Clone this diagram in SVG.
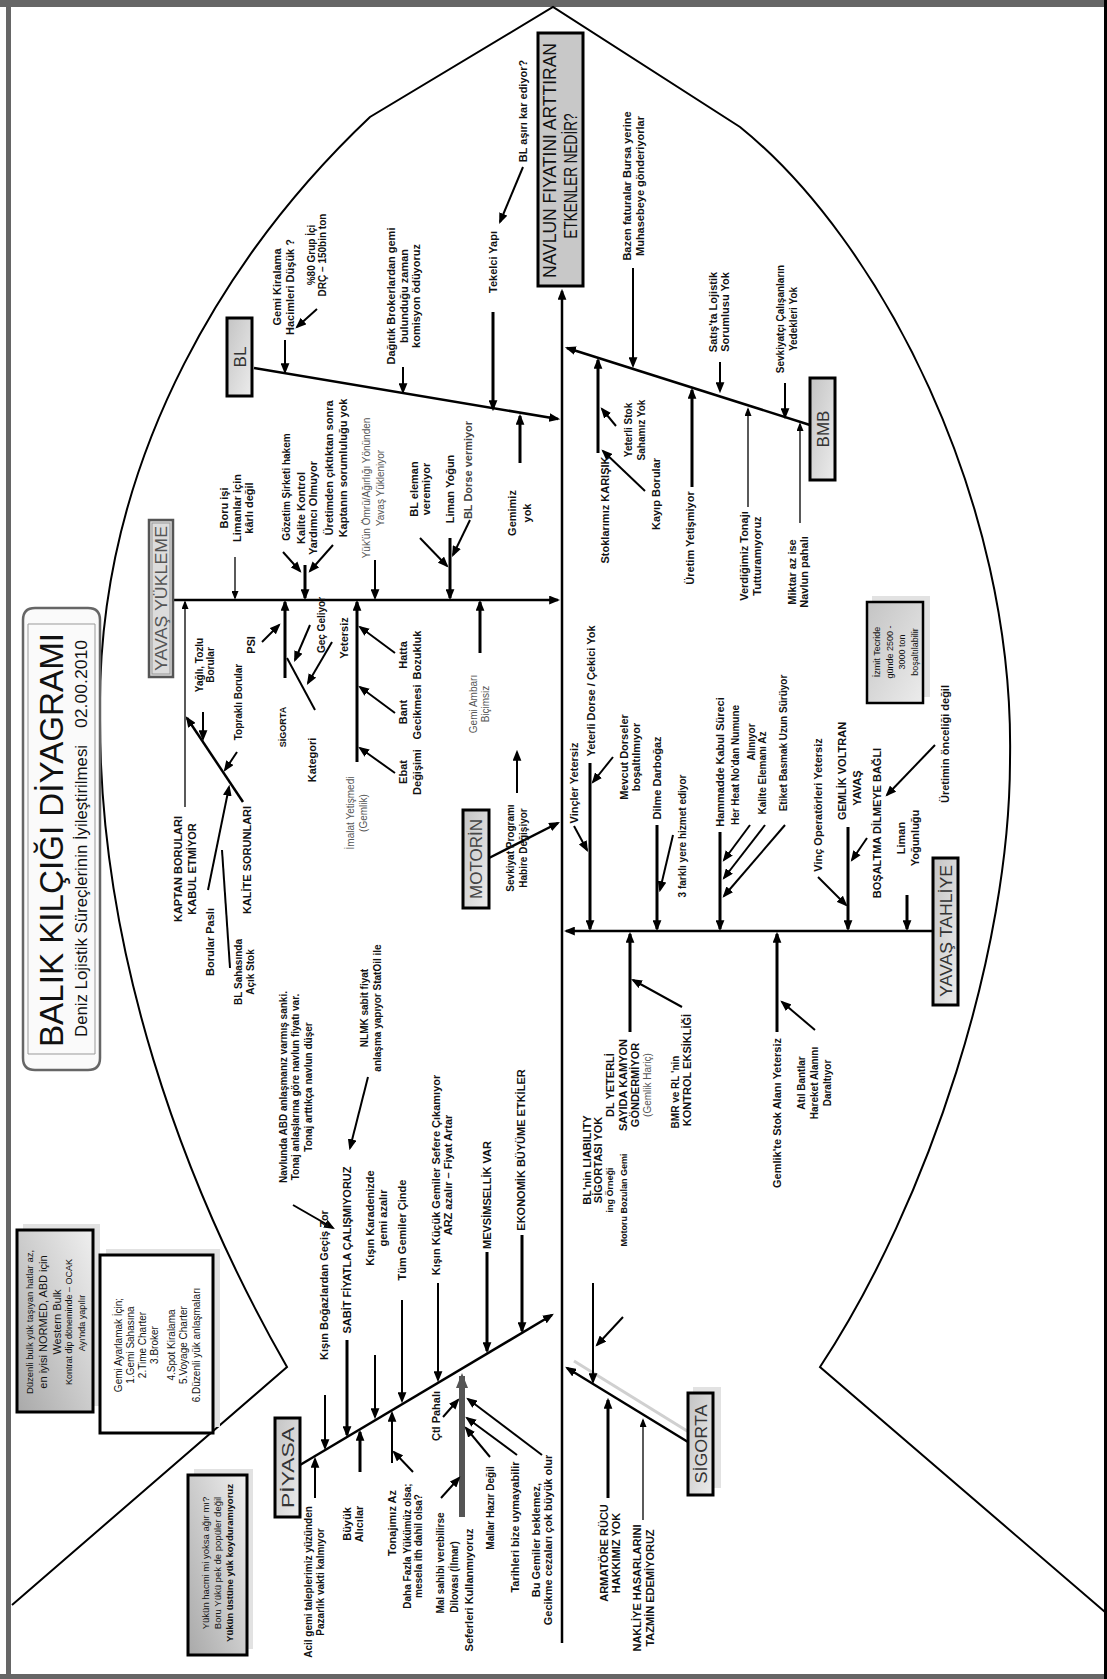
<svg xmlns="http://www.w3.org/2000/svg" width="1107" height="1679" viewBox="0 0 1107 1679">
<defs>
<style>
text{font-family:"Liberation Sans",Arial,sans-serif;text-anchor:middle;fill:#111}
.b{font-size:11px;font-weight:bold}
.s{font-size:10px;font-weight:bold}
.x{font-size:9px;font-weight:bold}
.n{font-size:10px;fill:#555}
.m{font-size:17px;fill:#333}
.bone{stroke:#000;stroke-width:2.5;fill:none;marker-end:url(#ah)}
.a{stroke:#000;stroke-width:2;fill:none;marker-end:url(#ah)}
.k{stroke:#000;stroke-width:3;fill:none;marker-end:url(#ah)}
.t{stroke:#000;stroke-width:1.3;fill:none;marker-end:url(#as)}
.p{stroke:#000;stroke-width:2;fill:none}
.box{fill:url(#gb);stroke:#000;stroke-width:3}
.sh{fill:#e2e2e2}
</style>
<marker id="ah" viewBox="0 0 10 8" refX="8" refY="4" markerWidth="11" markerHeight="9" orient="auto" markerUnits="userSpaceOnUse"><path d="M0,0 L10,4 L0,8 z" fill="#000"/></marker>
<marker id="as" viewBox="0 0 10 8" refX="8" refY="4" markerWidth="9" markerHeight="7" orient="auto" markerUnits="userSpaceOnUse"><path d="M0,0 L10,4 L0,8 z" fill="#000"/></marker>
<marker id="ag" viewBox="0 0 10 8" refX="8" refY="4" markerWidth="15" markerHeight="13" orient="auto" markerUnits="userSpaceOnUse"><path d="M0,0 L10,4 L0,8 z" fill="#555"/></marker>
<linearGradient id="gb" x1="0" y1="0" x2="1" y2="1"><stop offset="0" stop-color="#c4c4c4"/><stop offset="1" stop-color="#ececec"/></linearGradient>
<linearGradient id="gl" x1="0" y1="1" x2="1" y2="0"><stop offset="0" stop-color="#a9a9a9"/><stop offset="1" stop-color="#efefef"/></linearGradient>
</defs>

<rect x="0" y="0" width="1107" height="1679" fill="#fff"/>
<rect x="0" y="0" width="1104" height="7" fill="#666"/>
<rect x="6" y="0" width="5" height="1679" fill="#666"/>
<rect x="0" y="1674" width="1107" height="5" fill="#666"/>
<rect x="1104" y="0" width="3" height="1679" fill="#000"/>

<g id="fish">
<path d="M12,1605 L287,1367 C180,1180 100,950 100,720 C95,450 240,240 370,117 L553,7 L740,127 C880,240 1015,500 1010,760 C1010,950 930,1200 820,1367 L1105,1612" fill="none" stroke="#000" stroke-width="2"/>
</g>

<g id="connectors">
<path class="bone" d="M562,1643 L562,291" stroke-width="1.5"/>
<path class="bone" d="M254,368 L558,419"/>
<path class="bone" d="M810,425 L567,348"/>
<path class="bone" d="M173,600 L558,600"/>
<path class="bone" d="M489,858 L558,823"/>
<path class="bone" d="M933,931 L566,931"/>
<path class="bone" d="M300,1465 L552,1315"/>
<path d="M692,1434 L574,1361" stroke="#d0d0d0" stroke-width="3" fill="none"/>
<path class="bone" d="M688,1442 L567,1368"/>
<!-- BL -->
<path class="a" d="M285,340 L285,372"/>
<path class="a" d="M317,309 L297,327"/>
<path class="a" d="M403,367 L403,392"/>
<path class="k" d="M493,312 L493,409"/>
<path class="a" d="M523,167 L500,222"/>
<path class="k" d="M520,463 L520,416"/>
<!-- BMB -->
<path class="a" d="M633,268 L633,366"/>
<path class="a" d="M720,362 L720,391"/>
<path class="a" d="M785,383 L785,417"/>
<path class="k" d="M598,453 L598,360"/>
<path class="a" d="M616,426 L602,409"/>
<path class="a" d="M645,491 L603,451"/>
<path class="k" d="M692,487 L692,390"/>
<path class="t" d="M748,507 L748,409"/>
<path class="t" d="M800,523 L800,424"/>
<!-- YAVAS YUKLEME -->
<path class="t" d="M235,557 L235,598"/>
<path class="a" d="M283,552 L300,571"/>
<path class="a" d="M333,545 L310,571"/>
<path class="k" d="M305,565 L305,598"/>
<path class="a" d="M375,560 L375,598"/>
<path class="a" d="M420,538 L447,566"/>
<path class="a" d="M470,520 L453,555" stroke="#555"/>
<path class="k" d="M450,538 L450,598"/>
<path class="t" d="M185,807 L185,602"/>
<path class="bone" d="M243,802 L187,718"/>
<path class="a" d="M203,712 L203,739"/>
<path class="a" d="M237,752 L225,770"/>
<path class="a" d="M208,890 L229,787"/>
<path class="p" d="M230,968 L222,850"/>
<path class="k" d="M285,678 L285,602"/>
<path class="a" d="M262,642 L279,625"/>
<path class="p" d="M287,658 L315,710"/>
<path class="a" d="M310,625 L295,660"/>
<path class="a" d="M332,642 L308,683"/>
<path class="k" d="M357,762 L357,602"/>
<path class="a" d="M395,653 L360,627"/>
<path class="a" d="M395,713 L360,687"/>
<path class="a" d="M395,773 L360,748"/>
<path class="k" d="M480,653 L480,602"/>
<path class="a" d="M517,793 L517,752"/>
<!-- YAVAS TAHLIYE -->
<path class="k" d="M590,763 L590,929"/>
<path class="a" d="M574,826 L587,850"/>
<path class="a" d="M613,757 L593,782"/>
<path class="k" d="M657,825 L657,929"/>
<path class="a" d="M673,835 L660,890"/>
<path class="k" d="M720,832 L720,929"/>
<path class="a" d="M750,825 L724,860"/>
<path class="a" d="M765,825 L724,878"/>
<path class="a" d="M785,825 L724,896"/>
<path class="a" d="M818,877 L846,905"/>
<path class="k" d="M848,827 L848,929"/>
<path class="a" d="M867,838 L852,860"/>
<path class="a" d="M935,745 L887,795"/>
<path class="k" d="M907,895 L907,929"/>
<path class="k" d="M630,1032 L630,934"/>
<path class="a" d="M682,1007 L633,980"/>
<path class="k" d="M777,1032 L777,934"/>
<path class="a" d="M815,1030 L782,1002"/>
<!-- PIYASA -->
<path class="a" d="M325,1395 L325,1448"/>
<path class="k" d="M347,1340 L347,1435"/>
<path class="a" d="M293,1205 L333,1228"/>
<path class="a" d="M368,1077 L350,1148"/>
<path class="a" d="M375,1355 L375,1417"/>
<path class="a" d="M402,1300 L402,1401"/>
<path class="a" d="M438,1283 L438,1380"/>
<path class="k" d="M487,1252 L487,1351"/>
<path class="k" d="M522,1235 L522,1331"/>
<path class="a" d="M315,1498 L315,1459"/>
<path class="k" d="M360,1472 L360,1432"/>
<path class="a" d="M392,1463 L392,1413"/>
<path class="a" d="M413,1472 L394,1452"/>
<path class="a" d="M443,1417 L458,1400"/>
<path d="M462,1517 L462,1376" stroke="#555" stroke-width="6" fill="none" marker-end="url(#ag)"/>
<path class="a" d="M441,1498 L459,1478"/>
<path class="a" d="M490,1457 L466,1428"/>
<path class="a" d="M517,1455 L467,1418"/>
<path class="a" d="M542,1455 L468,1399"/>
<!-- SIGORTA -->
<path class="a" d="M593,1283 L593,1382"/>
<path class="a" d="M623,1317 L597,1345"/>
<path class="k" d="M608,1498 L608,1400"/>
<path class="t" d="M643,1520 L643,1420"/>
</g>

<g id="title">
<path d="M23,620 L23,1058 Q23,1070 35,1070 L88,1070 Q100,1070 100,1058 L100,620 Q100,608 88,608 L35,608 Q23,608 23,620 Z" fill="#fafafa" stroke="#666" stroke-width="2.5"/>
<path d="M28,624 L28,1054 L95,1054 L95,624 Z" fill="none" stroke="#999" stroke-width="1"/>
<text transform="translate(63,840) rotate(-90)" font-size="34" textLength="414" lengthAdjust="spacingAndGlyphs">BALIK KILÇIĞI DİYAGRAMI</text>
<text transform="translate(87,891) rotate(-90)" font-size="16" textLength="292" lengthAdjust="spacingAndGlyphs">Deniz Lojistik Süreçlerinin İyileştirilmesi</text>
<text transform="translate(87,684) rotate(-90)" font-size="16" textLength="88" lengthAdjust="spacingAndGlyphs">02.00.2010</text>
</g>

<g id="head">
<rect x="538" y="33" width="45" height="253" fill="#c8c8c8" stroke="#000" stroke-width="3"/>
<text transform="translate(556,160.5) rotate(-90)" font-size="19" textLength="235" lengthAdjust="spacingAndGlyphs">NAVLUN FIYATINI ARTTIRAN</text>
<text transform="translate(577,176) rotate(-90)" font-size="19" textLength="125" lengthAdjust="spacingAndGlyphs">ETKENLER NEDİR?</text>
</g>

<g id="bl">
<rect class="box" x="227" y="318" width="25" height="78"/>
<text class="m" transform="translate(246,357) rotate(-90)">BL</text>
</g>
<g id="bl-1"><text class="b" transform="translate(281,287) rotate(-90)"><tspan x="0">Gemi Kiralama</tspan><tspan x="0" dy="13">Hacimleri Düşük ?</tspan></text></g>
<g id="bl-2"><text class="s" transform="translate(314.5,255) rotate(-90)"><tspan x="0">%80 Grup İçi</tspan><tspan x="0" dy="11">DRÇ – 150bin ton</tspan></text></g>
<g id="bl-3"><text class="b" transform="translate(395,296) rotate(-90)"><tspan x="0">Dağıtık Brokerlardan gemi</tspan><tspan x="0" dy="12.5">bulunduğu zaman</tspan><tspan x="0" dy="12.5">komisyon ödüyoruz</tspan></text></g>
<g id="bl-4"><text class="b" transform="translate(497,262) rotate(-90)">Tekelci Yapı</text></g>
<g id="bl-5"><text class="b" transform="translate(527,111) rotate(-90)">BL aşırı kar ediyor?</text></g>
<g id="bl-6"><text class="b" transform="translate(516,513) rotate(-90)"><tspan x="0">Gemimiz</tspan><tspan x="0" dy="15">yok</tspan></text></g>

<g id="bmb">
<rect class="box" x="810" y="378" width="25" height="102"/>
<text class="m" transform="translate(828.5,429) rotate(-90)">BMB</text>
</g>
<g id="bmb-1"><text class="b" transform="translate(631,186) rotate(-90)"><tspan x="0">Bazen faturalar Bursa yerine</tspan><tspan x="0" dy="13">Muhasebeye gönderiyorlar</tspan></text></g>
<g id="bmb-2"><text class="b" transform="translate(717,312) rotate(-90)"><tspan x="0">Satış'ta Lojistik</tspan><tspan x="0" dy="12">Sorumlusu Yok</tspan></text></g>
<g id="bmb-3"><text class="s" transform="translate(783.5,319) rotate(-90)"><tspan x="0">Sevkiyatçı Çalışanların</tspan><tspan x="0" dy="13">Yedekleri Yok</tspan></text></g>
<g id="bmb-4"><text class="b" transform="translate(609,510) rotate(-90)">Stoklarımız KARIŞIK</text></g>
<g id="bmb-5"><text class="s" transform="translate(631.5,430) rotate(-90)"><tspan x="0">Yeterli Stok</tspan><tspan x="0" dy="13">Sahamız Yok</tspan></text></g>
<g id="bmb-6"><text class="b" transform="translate(660,494) rotate(-90)">Kayıp Borular</text></g>
<g id="bmb-7"><text class="b" transform="translate(694,538) rotate(-90)">Üretim Yetişmiyor</text></g>
<g id="bmb-8"><text class="b" transform="translate(748,556) rotate(-90)"><tspan x="0">Verdiğimiz Tonajı</tspan><tspan x="0" dy="13">Tutturamıyoruz</tspan></text></g>
<g id="bmb-9"><text class="b" transform="translate(796,572) rotate(-90)"><tspan x="0">Miktar az ise</tspan><tspan x="0" dy="12">Navlun pahalı</tspan></text></g>

<g id="yy">
<rect x="149" y="520" width="24" height="157" fill="#dcdcdc" stroke="#555" stroke-width="2.5"/>
<rect x="152" y="523" width="18" height="151" fill="none" stroke="#999" stroke-width="1"/>
<text class="m" transform="translate(167,598.5) rotate(-90)" style="fill:#555" textLength="145" lengthAdjust="spacingAndGlyphs">YAVAŞ YÜKLEME</text>
</g>
<g id="yy-1"><text class="b" transform="translate(228,508) rotate(-90)"><tspan x="0">Boru işi</tspan><tspan x="0" dy="12.5">Limanlar için</tspan><tspan x="0" dy="12.5">kârlı değil</tspan></text></g>
<g id="yy-2"><text class="s" transform="translate(289.5,487) rotate(-90)">Gözetim Şirketi hakem</text></g>
<g id="yy-3"><text class="b" transform="translate(305,508) rotate(-90)"><tspan x="0">Kalite Kontrol</tspan><tspan x="0" dy="12">Yardımcı Olmuyor</tspan></text></g>
<g id="yy-4"><text class="b" transform="translate(333,468) rotate(-90)"><tspan x="0">Üretimden çıktıktan sonra</tspan><tspan x="0" dy="14">Kaptanın sorumluluğu yok</tspan></text></g>
<g id="yy-5"><text class="n" transform="translate(369.5,488) rotate(-90)"><tspan x="0">Yük'ün Ömrü/Ağırlığı Yönünden</tspan><tspan x="0" dy="14">Yavaş Yükleniyor</tspan></text></g>
<g id="yy-6"><text class="b" transform="translate(418,489) rotate(-90)"><tspan x="0">BL eleman</tspan><tspan x="0" dy="12">veremiyor</tspan></text></g>
<g id="yy-7"><text class="b" transform="translate(454,489) rotate(-90)">Liman Yoğun</text></g>
<g id="yy-8"><text class="b" transform="translate(472,470) rotate(-90)" style="fill:#444">BL Dorse vermiyor</text></g>
<g id="yy-9"><text class="b" transform="translate(182,869) rotate(-90)"><tspan x="0">KAPTAN BORULARI</tspan><tspan x="0" dy="14">KABUL ETMİYOR</tspan></text></g>
<g id="yy-10"><text class="b" transform="translate(251,860) rotate(-90)">KALİTE SORUNLARI</text></g>
<g id="yy-11"><text class="s" transform="translate(202.5,665) rotate(-90)"><tspan x="0">Yağlı, Tozlu</tspan><tspan x="0" dy="11">Borular</tspan></text></g>
<g id="yy-12"><text class="s" transform="translate(241.5,702) rotate(-90)">Topraklı Borular</text></g>
<g id="yy-13"><text class="b" transform="translate(214,942) rotate(-90)">Borular Paslı</text></g>
<g id="yy-14"><text class="s" transform="translate(241.5,972) rotate(-90)"><tspan x="0">BL Sahasında</tspan><tspan x="0" dy="12">Açık Stok</tspan></text></g>
<g id="yy-15"><text class="b" transform="translate(255,645) rotate(-90)">PSI</text></g>
<g id="yy-16"><text class="x" transform="translate(286,727) rotate(-90)">SİGORTA</text></g>
<g id="yy-17"><text class="b" transform="translate(316,760) rotate(-90)">Kategori</text></g>
<g id="yy-18"><text class="s" transform="translate(324.5,625) rotate(-90)">Geç Geliyor</text></g>
<g id="yy-19"><text class="b" transform="translate(348,638) rotate(-90)">Yetersiz</text></g>
<g id="yy-20"><text class="b" transform="translate(407,655) rotate(-90)"><tspan x="0">Hatta</tspan><tspan x="0" dy="14">Bozukluk</tspan></text></g>
<g id="yy-21"><text class="b" transform="translate(407,712) rotate(-90)"><tspan x="0">Bant</tspan><tspan x="0" dy="14">Gecikmesi</tspan></text></g>
<g id="yy-22"><text class="b" transform="translate(407,772) rotate(-90)"><tspan x="0">Ebat</tspan><tspan x="0" dy="14">Değişimi</tspan></text></g>
<g id="yy-23"><text class="n" transform="translate(353.5,813) rotate(-90)"><tspan x="0">İmalat Yetişmedi</tspan><tspan x="0" dy="13">(Gemlik)</tspan></text></g>
<g id="yy-24"><text class="n" transform="translate(476.5,704) rotate(-90)"><tspan x="0">Gemi Ambarı</tspan><tspan x="0" dy="12">Biçimsiz</tspan></text></g>
<g id="yy-25"><text class="s" transform="translate(513.5,848) rotate(-90)"><tspan x="0">Sevkiyat Programı</tspan><tspan x="0" dy="13">Habire Değişiyor</tspan></text></g>

<g id="motorin">
<rect class="box" x="463" y="810" width="26" height="98"/>
<text class="m" transform="translate(482,859) rotate(-90)" style="fill:#444">MOTORİN</text>
</g>

<g id="yt">
<rect class="box" x="933" y="858" width="25" height="147"/>
<text class="m" transform="translate(951.5,931) rotate(-90)" textLength="132" lengthAdjust="spacingAndGlyphs">YAVAŞ TAHLİYE</text>
</g>
<g id="yt-1"><text class="b" transform="translate(595,691) rotate(-90)">Yeterli Dorse / Çekici Yok</text></g>
<g id="yt-2"><text class="b" transform="translate(578,783) rotate(-90)">Vinçler Yetersiz</text></g>
<g id="yt-3"><text class="b" transform="translate(628,757) rotate(-90)"><tspan x="0">Mevcut Dorseler</tspan><tspan x="0" dy="12">boşaltılmıyor</tspan></text></g>
<g id="yt-4"><text class="b" transform="translate(661,778) rotate(-90)">Dilme Darboğaz</text></g>
<g id="yt-5"><text class="s" transform="translate(685.5,836) rotate(-90)">3 farklı yere hizmet ediyor</text></g>
<g id="yt-6"><text class="b" transform="translate(724,762) rotate(-90)">Hammadde Kabul Süreci</text></g>
<g id="yt-7"><text class="s" transform="translate(738.5,765) rotate(-90)">Her Heat No'dan Numune</text><text class="s" transform="translate(754.5,742) rotate(-90)">Alınıyor</text></g>
<g id="yt-8"><text class="s" transform="translate(765.5,773) rotate(-90)">Kalite Elemanı Az</text></g>
<g id="yt-9"><text class="s" transform="translate(786.5,743) rotate(-90)">Etiket Basmak Uzun Sürüyor</text></g>
<g id="yt-10"><text class="b" transform="translate(822,805) rotate(-90)">Vinç Operatörleri Yetersiz</text></g>
<g id="yt-11"><text class="b" transform="translate(846,771) rotate(-90)">GEMLİK VOLTRAN</text><text class="b" transform="translate(861,788) rotate(-90)">YAVAŞ</text></g>
<g id="yt-12"><text class="b" transform="translate(881,823) rotate(-90)">BOŞALTMA DİLMEYE BAĞLI</text></g>
<g id="yt-13"><text class="b" transform="translate(949,744) rotate(-90)">Üretimin önceliği değil</text></g>
<g id="yt-14"><text class="b" transform="translate(905,838) rotate(-90)"><tspan x="0">Liman</tspan><tspan x="0" dy="14">Yoğunluğu</tspan></text></g>
<g id="yt-15"><text class="b" transform="translate(614,1085) rotate(-90)"><tspan x="0">DL YETERLİ</tspan><tspan x="0" dy="12.5">SAYIDA KAMYON</tspan><tspan x="0" dy="12.5">GÖNDERMİYOR</tspan></text><text class="n" font-size="9" transform="translate(651,1085) rotate(-90)">(Gemlik Hariç)</text></g>
<g id="yt-16"><text class="s" transform="translate(678.5,1092) rotate(-90)">BMR ve RL 'nin</text><text class="b" transform="translate(691,1070) rotate(-90)">KONTROL EKSİKLİĞİ</text></g>
<g id="yt-17"><text class="b" transform="translate(781,1113) rotate(-90)">Gemlik'te Stok Alanı Yetersiz</text></g>
<g id="yt-18"><text class="s" transform="translate(804.5,1083) rotate(-90)"><tspan x="0">Atıl Bantlar</tspan><tspan x="0" dy="13">Hareket Alanını</tspan><tspan x="0" dy="13">Daraltıyor</tspan></text></g>

<g id="izmit">
<rect class="sh" x="872" y="596" width="58" height="101"/>
<rect x="867" y="602" width="56" height="101" fill="url(#gb)" stroke="#000" stroke-width="2.5"/>
<text font-size="9" transform="translate(880,652) rotate(-90)"><tspan x="0">İzmit Tecride</tspan><tspan x="0" dy="12.5">günde 2500 -</tspan><tspan x="0" dy="12.5">3000 ton</tspan><tspan x="0" dy="12.5">boşaltılabilir</tspan></text>
</g>

<g id="piyasa">
<rect class="box" x="275" y="1418" width="25" height="99"/>
<text class="m" transform="translate(293.5,1467.5) rotate(-90)" textLength="81" lengthAdjust="spacingAndGlyphs">PİYASA</text>
</g>
<g id="pi-1"><text class="b" transform="translate(328,1285) rotate(-90)">Kışın Boğazlardan Geçiş Zor</text></g>
<g id="pi-2"><text class="b" transform="translate(351,1250) rotate(-90)">SABİT FİYATLA ÇALIŞMIYORUZ</text></g>
<g id="pi-3"><text class="s" transform="translate(286.5,1087) rotate(-90)"><tspan x="0">Navlunda ABD anlaşmanız varmış sanki.</tspan><tspan x="0" dy="12.5">Tonaj anlaşlarına göre navlun fiyatı var.</tspan><tspan x="0" dy="12.5">Tonaj arttıkça navlun düşer</tspan></text></g>
<g id="pi-4"><text class="s" transform="translate(367.5,1008) rotate(-90)"><tspan x="0">NLMK sabit fiyat</tspan><tspan x="0" dy="13">anlaşma yapıyor StatOil ile</tspan></text></g>
<g id="pi-5"><text class="b" transform="translate(374,1218) rotate(-90)"><tspan x="0">Kışın Karadenizde</tspan><tspan x="0" dy="13">gemi azalır</tspan></text></g>
<g id="pi-6"><text class="b" transform="translate(406,1230) rotate(-90)">Tüm Gemiler Çinde</text></g>
<g id="pi-7"><text class="b" transform="translate(440,1175) rotate(-90)"><tspan x="0">Kışın Küçük Gemiler Sefere Çıkamıyor</tspan><tspan x="0" dy="12">ARZ azalır – Fiyat Artar</tspan></text></g>
<g id="pi-8"><text class="b" transform="translate(491,1195) rotate(-90)">MEVSİMSELLİK VAR</text></g>
<g id="pi-9"><text class="b" transform="translate(525,1150) rotate(-90)">EKONOMİK BÜYÜME ETKİLER</text></g>
<g id="pi-10"><text class="s" transform="translate(311.5,1582) rotate(-90)"><tspan x="0">Acil gemi taleplerimiz yüzünden</tspan><tspan x="0" dy="12">Pazarlık vakti kalmıyor</tspan></text></g>
<g id="pi-11"><text class="b" transform="translate(351,1524) rotate(-90)"><tspan x="0">Büyük</tspan><tspan x="0" dy="12">Alıcılar</tspan></text></g>
<g id="pi-12"><text class="b" transform="translate(396,1523) rotate(-90)">Tonajımız Az</text></g>
<g id="pi-13"><text class="s" transform="translate(410.5,1546) rotate(-90)"><tspan x="0">Daha Fazla Yükümüz olsa;</tspan><tspan x="0" dy="11">mesela ith dahil olsa?</tspan></text></g>
<g id="pi-14"><text class="b" transform="translate(440,1416) rotate(-90)">Çtl Pahalı</text></g>
<g id="pi-15"><text class="s" transform="translate(443.5,1563) rotate(-90)">Mal sahibi verebilirse</text><text class="s" transform="translate(457.5,1577) rotate(-90)">Dilovası (İlmar)</text><text class="b" transform="translate(473,1590) rotate(-90)">Seferleri Kullanmıyoruz</text></g>
<g id="pi-16"><text class="s" transform="translate(493.5,1508) rotate(-90)">Mallar Hazır Değil</text></g>
<g id="pi-17"><text class="b" transform="translate(519,1527) rotate(-90)">Tarihleri bize uymayabilir</text></g>
<g id="pi-18"><text class="b" transform="translate(540,1540) rotate(-90)"><tspan x="0">Bu Gemiler beklemez,</tspan><tspan x="0" dy="12">Gecikme cezaları çok büyük olur</tspan></text></g>

<g id="sigorta">
<rect class="sh" x="693" y="1387" width="28" height="101"/>
<rect class="box" x="688" y="1393" width="25" height="102"/>
<text class="m" transform="translate(706.5,1444) rotate(-90)" textLength="79" lengthAdjust="spacingAndGlyphs">SİGORTA</text>
</g>
<g id="si-1"><text class="b" transform="translate(591,1160) rotate(-90)"><tspan x="0">BL'nin LIABILITY</tspan><tspan x="0" dy="11">SİGORTASI YOK</tspan></text><text class="x" transform="translate(613,1190) rotate(-90)">ing Örneği</text><text class="x" transform="translate(627,1200) rotate(-90)">Motoru Bozulan Gemi</text></g>
<g id="si-2"><text class="b" transform="translate(608,1553) rotate(-90)"><tspan x="0">ARMATÖRE RÜCU</tspan><tspan x="0" dy="12">HAKKIMIZ YOK</tspan></text></g>
<g id="si-3"><text class="b" transform="translate(641,1588) rotate(-90)"><tspan x="0">NAKLİYE HASARLARINI</tspan><tspan x="0" dy="13">TAZMİN EDEMİYORUZ</tspan></text></g>

<g id="note-a">
<rect class="sh" x="23" y="1224" width="77" height="182"/>
<rect x="17" y="1230" width="76" height="182" fill="url(#gl)" stroke="#000" stroke-width="3"/>
<text font-size="9.5" transform="translate(32.5,1322) rotate(-90)">Düzenli bulk yük taşıyan hatlar az,</text>
<text font-size="11" transform="translate(47,1322) rotate(-90)">en iyisi NORMED, ABD için</text>
<text font-size="11" transform="translate(61,1322) rotate(-90)">Western Bulk</text>
<text font-size="9" transform="translate(72,1322) rotate(-90)">Kontrat dip döneminde – OCAK</text>
<text font-size="9" transform="translate(85,1323) rotate(-90)">Ayı'nda yapılır</text>
</g>
<g id="note-b">
<rect class="sh" x="106" y="1249" width="114" height="178"/>
<rect x="100" y="1255" width="113" height="178" fill="#fff" stroke="#000" stroke-width="3"/>
<text font-size="10" transform="translate(121.5,1345) rotate(-90)"><tspan x="0">Gemi Ayarlamak İçin;</tspan><tspan x="0" dy="12.5">1.Gemi Sahasına</tspan><tspan x="0" dy="12">2.Time Charter</tspan><tspan x="0" dy="11.5">3.Broker</tspan><tspan x="0" dy="17">4.Spot Kiralama</tspan><tspan x="0" dy="12">5.Voyage Charter</tspan><tspan x="0" dy="13">6.Düzenli yük anlaşmaları</tspan></text>
</g>
<g id="note-c">
<rect class="sh" x="194" y="1469" width="59" height="180"/>
<rect x="188" y="1475" width="59" height="180" fill="url(#gl)" stroke="#000" stroke-width="3"/>
<text font-size="9.5" transform="translate(208.5,1563) rotate(-90)"><tspan x="0">Yükün hacmi mi yoksa ağır mı?</tspan><tspan x="0" dy="12">Boru Yükü pek de popüler değil</tspan></text>
<text font-size="9.5" font-weight="bold" transform="translate(232.5,1563) rotate(-90)">Yükün üstüne yük koyduramıyoruz</text>
</g>
</svg>
